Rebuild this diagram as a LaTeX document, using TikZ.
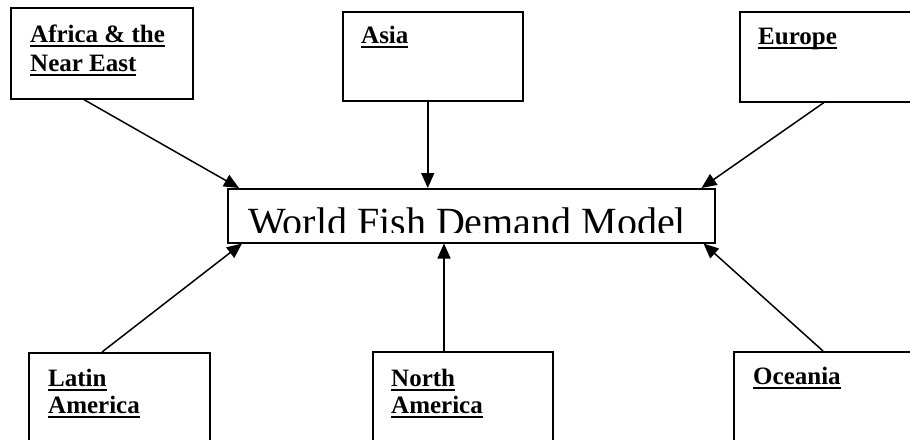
\documentclass[tikz,border=0pt]{standalone}
\usepackage{fontspec}
\setmainfont{Liberation Serif}
\usetikzlibrary{arrows.meta,calc}
\newcommand\ulw[1]{\setbox0\hbox{#1}\rlap{\rule[-4.8pt]{\wd0}{2.2pt}}\box0}
\begin{document}
\begin{tikzpicture}[x=1pt,y=-1pt,
  box/.style={draw, line width=1.5pt, inner sep=0pt, anchor=north west},
  lbl/.style={anchor=base west, inner sep=0pt, font=\fontsize{25}{29}\selectfont\bfseries},
  arr/.style={line width=1.5pt, -{Triangle[length=15pt,width=13pt]}}]
\useasboundingbox (0,0) rectangle (910,439);
\clip (0,0) rectangle (910,439);
% boxes
\node[box, minimum width=182pt, minimum height=91pt] (afr) at (10,7) {};
\node[box, minimum width=180pt, minimum height=89pt] (asia) at (342,11) {};
\node[box, minimum width=191pt, minimum height=90pt] (eur) at (739,11) {};
\node[box, minimum width=487pt, minimum height=54pt] (wfd) at (227,188) {};
\node[box, minimum width=181pt, minimum height=110pt] (lat) at (28,352) {};
\node[box, minimum width=180pt, minimum height=110pt] (nam) at (372,351) {};
\node[box, minimum width=197pt, minimum height=110pt] (oce) at (733,351) {};
% labels
\node[lbl] (afr1) at (30,42) {\ulw{Africa \& the}};
\node[lbl] (afr2) at (30,71) {\ulw{Near East}};
\node[lbl] (asia1) at (361,43) {\ulw{Asia}};
\node[lbl] (eur1) at (758,44) {\ulw{Europe}};
\node[lbl] (lat1) at (48,386) {\ulw{Latin}};
\node[lbl] (lat2) at (48,413) {\ulw{America}};
\node[lbl] (nam1) at (391,386) {\ulw{North}};
\node[lbl] (nam2) at (391,413) {\ulw{America}};
\node[lbl] (oce1) at (753,384) {\ulw{Oceania}};
\begin{scope}
\clip (227,188) rectangle (714,232);
\node[anchor=base west, inner sep=0pt, font=\fontsize{40}{48}\selectfont] (wfdt) at (248,235.5) {World Fish Demand Model};
\end{scope}
% connectors
\coordinate (afrS) at ([xshift=-18pt]afr.south);
\coordinate (asiaS) at ([xshift=-5pt]asia.south);
\coordinate (eurS) at ([xshift=85pt]eur.south west);
\coordinate (latN) at ([xshift=74pt]lat.north west);
\coordinate (namN) at ([xshift=72pt]nam.north west);
\coordinate (oceN) at ([xshift=90pt]oce.north west);
\draw[arr] (afrS) -- ([xshift=12pt]wfd.north west);
\draw[arr] (asiaS) -- (asiaS |- wfd.north);
\draw[arr] (eurS) -- ([xshift=-14pt]wfd.north east);
\draw[arr] (latN) -- ([xshift=15pt]wfd.south west);
\draw[arr] (namN) -- (namN |- wfd.south);
\draw[arr] (oceN) -- ([xshift=-12pt]wfd.south east);
\end{tikzpicture}
\end{document}
